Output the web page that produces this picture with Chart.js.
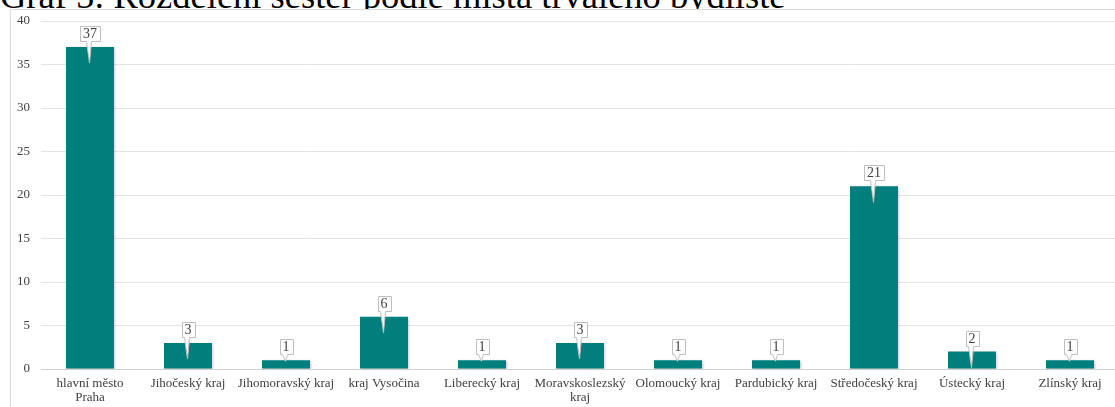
<!DOCTYPE html>
<html lang="cs">
<head>
<meta charset="utf-8">
<title>Graf 5</title>
<script src="https://cdn.jsdelivr.net/npm/chart.js@4/dist/chart.umd.min.js"></script>
<style>
  html, body { margin: 0; padding: 0; background: #fff; overflow: hidden; width: 1115px; height: 407px; }
  #title {
    position: absolute; left: 0; top: -22px; margin: 0;
    font-family: "Liberation Serif", "Times New Roman", serif;
    font-size: 36.5px; line-height: 36px; font-weight: normal; color: #000;
    white-space: nowrap; z-index: 0;
  }
  #frame {
    position: absolute; left: 10px; top: 9px; width: 1118px; height: 418px;
    border: 1px solid #d9d9d9; background: #fff; z-index: 1;
  }
  #chart { display: block; }
</style>
</head>
<body>
<h1 id="title">Graf 5: Rozdělení sester podle místa trvalého bydliště</h1>
<div id="frame"><canvas id="chart" width="1118" height="418"></canvas></div>
<script>
// Kraje trvalého bydliště
const categories = [
  ['hlavní město', 'Praha'],
  'Jihočeský kraj',
  'Jihomoravský kraj',
  'kraj Vysočina',
  'Liberecký kraj',
  ['Moravskoslezský', 'kraj'],
  'Olomoucký kraj',
  'Pardubický kraj',
  'Středočeský kraj',
  'Ústecký kraj',
  'Zlínský kraj'
];
// Počet sester
const counts = [37, 3, 1, 6, 1, 3, 1, 1, 21, 2, 1];
// Osa Y
const yTicks = [0, 5, 10, 15, 20, 25, 30, 35, 40];

const SERIF = '"Liberation Serif", "Times New Roman", serif';
const TEXT = '#404040';

// Stín pod sloupci
const barShadow = {
  id: 'barShadow',
  beforeDatasetsDraw(chart) {
    const c = chart.ctx;
    c.save();
    c.shadowColor = 'rgba(0,0,0,0.25)';
    c.shadowBlur = 3;
    c.shadowOffsetX = 1;
    c.shadowOffsetY = 1;
  },
  afterDatasetsDraw(chart) { chart.ctx.restore(); }
};

// Popisky hodnot ve tvaru bubliny s ocáskem do sloupce
const calloutLabels = {
  id: 'calloutLabels',
  afterDatasetsDraw(chart) {
    const c = chart.ctx;
    const meta = chart.getDatasetMeta(0);
    const data = chart.data.datasets[0].data;
    c.save();
    c.font = '14px ' + SERIF;
    c.textAlign = 'center';
    c.textBaseline = 'middle';
    meta.data.forEach((bar, i) => {
      const txt = String(data[i]);
      const tw = c.measureText(txt).width;
      const w = Math.round(tw + 6), h = 15;
      const cx = Math.round(bar.x);
      const top = bar.y;
      const base = bar.base;
      const boxBottom = Math.round(top - 6) + 0.5;
      const boxTop = boxBottom - h;
      const left = cx - Math.floor(w / 2) + 0.5;
      const tip = (base - top) >= 16 ? top + 16 : top + 1;
      // bublina
      c.beginPath();
      c.moveTo(left, boxTop);
      c.lineTo(left + w, boxTop);
      c.lineTo(left + w, boxBottom);
      c.lineTo(cx + 1.5, boxBottom);
      c.lineTo(cx - 0.5, tip);
      c.lineTo(cx - 3.5, boxBottom);
      c.lineTo(left, boxBottom);
      c.closePath();
      c.fillStyle = '#ffffff';
      c.fill();
      c.strokeStyle = '#bfbfbf';
      c.lineWidth = 1;
      c.stroke();
      c.fillStyle = TEXT;
      c.fillText(txt, cx, boxTop + h / 2 + 0.5);
    });
    c.restore();
  }
};

new Chart(document.getElementById('chart'), {
  type: 'bar',
  data: {
    labels: categories,
    datasets: [{
      data: counts,
      backgroundColor: '#007f7c',
      borderWidth: 0,
      barPercentage: 0.49,
      categoryPercentage: 1.0
    }]
  },
  options: {
    responsive: false,
    animation: false,
    devicePixelRatio: 1,
    layout: { padding: { top: 11, right: 10, left: 0, bottom: 0 } },
    plugins: {
      legend: { display: false },
      tooltip: { enabled: false },
      title: { display: false }
    },
    scales: {
      x: {
        grid: { display: false, drawTicks: false },
        border: { display: true, color: '#d0d0d0', width: 1 },
        ticks: {
          color: TEXT, padding: 7, maxRotation: 0, autoSkip: false,
          font: { family: SERIF, size: 13, lineHeight: 1.1 }
        },
        afterFit(s) { s.height = 59; s.paddingLeft = 0; s.paddingRight = 0; }
      },
      y: {
        min: 0, max: 40,
        afterBuildTicks(s) { s.ticks = yTicks.map(v => ({ value: v })); },
        grid: { color: '#e4e4e4', drawTicks: false, lineWidth: 1 },
        border: { display: false },
        ticks: {
          color: TEXT, padding: 11,
          font: { family: SERIF, size: 13 }
        },
        afterFit(s) { s.width = 30; s.paddingTop = 0; s.paddingBottom = 0; }
      }
    }
  },
  plugins: [barShadow, calloutLabels]
});
</script>
</body>
</html>
